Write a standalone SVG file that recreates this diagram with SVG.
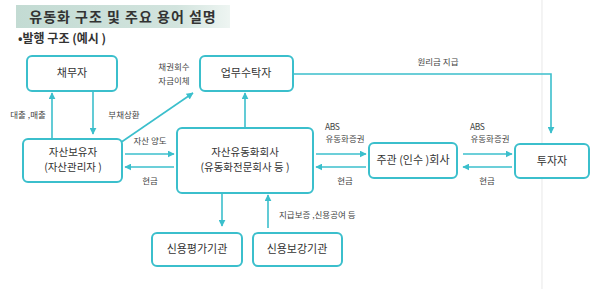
<svg xmlns="http://www.w3.org/2000/svg" width="600" height="289" viewBox="0 0 600 289">
<defs>
<linearGradient id="bg" x1="0" y1="0" x2="1" y2="0">
<stop offset="0" stop-color="#c3dbd3"/>
<stop offset="0.75" stop-color="#d2e4de"/>
<stop offset="1" stop-color="#eef5f2"/>
</linearGradient>
<marker id="ah" viewBox="0 0 10 10" refX="9" refY="5" markerWidth="7" markerHeight="7" markerUnits="userSpaceOnUse" orient="auto">
<path d="M0,0 L10,5 L0,10 z" fill="#3bbfcc"/>
</marker>
<style>
.box{fill:#fff;stroke:#3bbfcc;stroke-width:2}
.t{font-family:"Noto Sans CJK KR","Noto Sans",sans-serif;fill:#333;text-anchor:middle}
.big{font-size:11px}
.two{font-size:10.5px}
.sm{font-size:8.5px;fill:#444}
.ln{fill:none;stroke:#3bbfcc;stroke-width:1.6;marker-end:url(#ah)}
</style>
</defs>
<rect width="600" height="289" fill="#fff"/>
<line x1="542" y1="0" x2="542" y2="289" stroke="#ececec" stroke-width="1.2"/>
<g id="title">
<rect x="16" y="5" width="214" height="23" fill="url(#bg)"/>
<text class="t" x="123" y="22" style="font-size:14px;font-weight:bold;letter-spacing:1px">유동화 구조 및 주요 용어 설명</text>
<text x="18" y="43" style="font-family:'Noto Sans CJK KR',sans-serif;font-size:12px;font-weight:bold" fill="#333">•발행 구조 (예시 )</text>
</g>
<g id="connectors">
<line class="ln" x1="52" y1="138" x2="52" y2="93"/>
<line class="ln" x1="93" y1="92" x2="93" y2="134"/>
<line class="ln" x1="120" y1="143" x2="193" y2="93"/>
<line class="ln" x1="245" y1="127" x2="245" y2="93"/>
<polyline class="ln" points="294,74 551,74 551,133"/>
<line class="ln" x1="125" y1="154" x2="174" y2="154"/>
<line class="ln" x1="174" y1="167" x2="125" y2="167"/>
<line class="ln" x1="316" y1="154" x2="366" y2="154"/>
<line class="ln" x1="366" y1="167" x2="316" y2="167"/>
<line class="ln" x1="463" y1="154" x2="512" y2="154"/>
<line class="ln" x1="512" y1="167" x2="463" y2="167"/>
<line class="ln" x1="222" y1="194" x2="222" y2="226"/>
<line class="ln" x1="268" y1="228" x2="268" y2="195"/>
<text class="t sm" x="28" y="118">대출 ,매출</text>
<text class="t sm" x="124" y="118">부채상환</text>
<text class="t sm" x="174" y="70">채권회수</text>
<text class="t sm" x="174" y="84">자금이체</text>
<text class="t sm" x="438" y="65">원리금 지급</text>
<text class="t sm" x="150" y="144">자산 양도</text>
<text class="t sm" x="150" y="184">현금</text>
<text class="t sm" x="325" y="130" style="text-anchor:start;letter-spacing:-0.5px">ABS</text>
<text class="t sm" x="345" y="142">유동화증권</text>
<text class="t sm" x="345" y="184">현금</text>
<text class="t sm" x="470" y="130" style="text-anchor:start;letter-spacing:-0.5px">ABS</text>
<text class="t sm" x="490" y="142">유동화증권</text>
<text class="t sm" x="487" y="184">현금</text>
<text class="t sm" x="279" y="218" style="text-anchor:start">지급보증 ,신용공여 등</text>
</g>
<g id="n-debtor">
<rect class="box" x="27" y="56" width="90" height="35" rx="5"/>
<text class="t big" x="72" y="77">채무자</text>
</g>
<g id="n-trustee">
<rect class="box" x="200" y="56" width="93" height="35" rx="5"/>
<text class="t big" x="246" y="77">업무수탁자</text>
</g>
<g id="n-holder">
<rect class="box" x="23" y="139" width="99" height="43" rx="5"/>
<text class="t two" x="73" y="156">자산보유자</text>
<text class="t two" x="73" y="171">(자산관리자 )</text>
</g>
<g id="n-spc">
<rect class="box" x="177" y="128" width="136" height="65" rx="5"/>
<text class="t two" x="245" y="156">자산유동화회사</text>
<text class="t two" x="245" y="171">(유동화전문회사 등 )</text>
</g>
<g id="n-underwriter">
<rect class="box" x="369" y="143" width="88" height="35" rx="5"/>
<text class="t big" x="413" y="164">주관 (인수 )회사</text>
</g>
<g id="n-investor">
<rect class="box" x="515" y="144" width="74" height="34" rx="5"/>
<text class="t big" x="552" y="165">투자자</text>
</g>
<g id="n-rating">
<rect class="box" x="152" y="233" width="90" height="33" rx="5"/>
<text class="t big" x="197" y="253">신용평가기관</text>
</g>
<g id="n-enhance">
<rect class="box" x="253" y="233" width="89" height="33" rx="5"/>
<text class="t big" x="297" y="253">신용보강기관</text>
</g>
</svg>
